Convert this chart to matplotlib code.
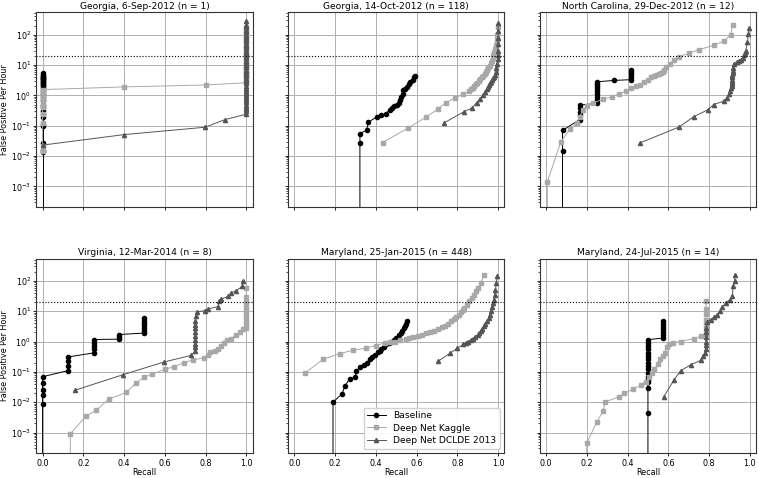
import matplotlib
matplotlib.use("Agg")
import matplotlib.pyplot as plt

titles = ["Georgia, 6-Sep-2012 (n = 1)", "Georgia, 14-Oct-2012 (n = 118)",
          "North Carolina, 29-Dec-2012 (n = 12)", "Virginia, 12-Mar-2014 (n = 8)",
          "Maryland, 25-Jan-2015 (n = 448)", "Maryland, 24-Jul-2015 (n = 14)"]
series_names = ["Baseline", "Deep Net Kaggle", "Deep Net DCLDE 2013"]
threshold_fp = 20
y_ticks = [1e-3, 1e-2, 1e-1, 1e0, 1e1, 1e2]
x_ticks = [0.0, 0.2, 0.4, 0.6, 0.8, 1.0]

# ---- Panel 1: Georgia 6-Sep-2012
p1_base_r = [0, 0, 0, 0, 0, 0, 0, 0, 0, 0, 0, 0, 0, 0, 0, 0, 0, 0, 0, 0, 0, 0, 0, 0, 0, 0, 0, 0, 0, 0]
p1_base_fp = [0, 0.014, 0.016, 0.028, 0.1, 0.11, 0.2, 0.24, 0.3, 0.4, 0.5, 0.7, 0.9, 1.1, 1.4, 1.7, 2.0, 2.2, 2.4, 2.6,
              2.8, 3.0, 3.2, 3.4, 3.6, 3.8, 4.1, 4.4, 4.8, 5.3]
p1_kag_r = [0, 0, 0, 0, 0, 0, 0, 0, 0, 0, 0, 0, 0.4, 0.8,
            1.0, 1.0, 1.0, 1.0, 1.0, 1.0, 1.0, 1.0, 1.0, 1.0, 1.0, 1.0, 1.0, 1.0, 1.0, 1.0, 1.0, 1.0, 1.0, 1.0, 1.0,
            1.0, 1.0, 1.0, 1.0, 1.0, 1.0]
p1_kag_fp = [0.015, 0.022, 0.12, 0.25, 0.4, 0.55, 0.7, 0.85, 1.0, 1.15, 1.3, 1.55, 1.9, 2.2,
             2.6, 3.0, 3.5, 4.0, 4.6, 5.3, 6.0, 7.0, 8.0, 9.0, 10, 12, 14, 16, 18, 21, 25, 30, 36, 43, 52,
             62, 75, 90, 110, 135, 165]
p1_dcl_r = [0, 0.4, 0.797, 0.896,
            1.0, 1.0, 1.0, 1.0, 1.0, 1.0, 1.0, 1.0, 1.0, 1.0, 1.0, 1.0, 1.0, 1.0, 1.0, 1.0, 1.0, 1.0, 1.0, 1.0,
            1.0, 1.0, 1.0, 1.0, 1.0, 1.0, 1.0, 1.0, 1.0, 1.0, 1.0, 1.0, 1.0, 1.0, 1.0, 1.0, 1.0, 1.0, 1.0, 1.0, 1.0]
p1_dcl_fp = [0.023, 0.051, 0.089, 0.16,
             0.24, 0.3, 0.36, 0.42, 0.5, 0.6, 0.7, 0.8, 0.95, 1.1, 1.3, 1.5, 1.8, 2.1, 2.5, 3, 3.5, 4.2, 5, 6,
             7, 8.5, 10, 12, 14, 17, 20, 24, 29, 35, 42, 50, 60, 72, 86, 100, 120, 145, 175, 210, 280]

# ---- Panel 2: Georgia 14-Oct-2012
p2_base_r = [0.322, 0.322, 0.322, 0.355, 0.363, 0.404, 0.423, 0.449, 0.469, 0.477, 0.489, 0.502, 0.515, 0.521,
             0.526, 0.531, 0.534, 0.542, 0.551, 0.564, 0.57, 0.58, 0.587, 0.592]
p2_base_fp = [0, 0.028, 0.055, 0.071, 0.13, 0.195, 0.22, 0.25, 0.34, 0.37, 0.44, 0.48, 0.54, 0.69,
              0.89, 1.15, 1.5, 1.67, 1.9, 2.45, 2.8, 3.2, 3.9, 4.3]
p2_kag_r = [0.433, 0.56, 0.645, 0.706, 0.743, 0.79, 0.83, 0.855, 0.865, 0.875, 0.882, 0.89, 0.897, 0.905, 0.912,
            0.92, 0.927, 0.934, 0.94, 0.946, 0.952, 0.958, 0.963, 0.968, 0.973, 0.977, 0.981, 0.985, 0.989, 0.993,
            0.996, 0.999]
p2_kag_fp = [0.028, 0.085, 0.19, 0.36, 0.57, 0.83, 1.1, 1.4, 1.6, 1.8, 2.0, 2.3, 2.6, 3.0, 3.4,
             3.9, 4.5, 5.2, 6.0, 7.0, 8.2, 9.6, 11.5, 14, 17, 21, 26, 33, 45, 65,
             100, 180]
p2_dcl_r = [0.735, 0.833, 0.874, 0.894, 0.91, 0.926, 0.935, 0.943, 0.95, 0.956, 0.962, 0.967, 0.972, 0.977,
            0.981, 0.985, 0.989, 0.992, 0.995, 0.997, 0.998, 0.999, 1.0, 1.0, 1.0, 1.0]
p2_dcl_fp = [0.125, 0.29, 0.39, 0.57, 0.75, 1.0, 1.3, 1.6, 1.9, 2.2, 2.5, 2.8, 3.2, 3.6,
             4.0, 4.6, 5.9, 8, 11, 16, 22, 30, 50, 80, 130, 240]

# ---- Panel 3: North Carolina 29-Dec-2012
p3_base_r = [0.081, 0.081, 0.081, 0.166, 0.166, 0.166, 0.166, 0.166, 0.248, 0.248, 0.248, 0.248, 0.248, 0.248,
             0.248, 0.248, 0.248, 0.332, 0.419, 0.419, 0.419, 0.419, 0.419]
p3_base_fp = [0, 0.0145, 0.07, 0.16, 0.22, 0.29, 0.37, 0.48, 0.54, 0.69, 0.89, 1.15, 1.4, 1.7,
              2.0, 2.4, 2.8, 3.1, 3.3, 4.0, 4.9, 5.9, 7.0]
p3_kag_r = [0.0065, 0.0065, 0.073, 0.117, 0.15, 0.166, 0.18, 0.2, 0.23, 0.28, 0.324, 0.357, 0.394, 0.419, 0.44,
            0.46, 0.48, 0.5, 0.516, 0.53, 0.54, 0.552, 0.565, 0.575, 0.58, 0.59, 0.606, 0.63, 0.65, 0.7,
            0.75, 0.826, 0.875, 0.907, 0.915]
p3_kag_fp = [0, 0.0014, 0.03, 0.076, 0.12, 0.2, 0.32, 0.44, 0.56, 0.75, 0.9, 1.1, 1.4, 1.75, 2.0,
             2.2, 2.8, 3.3, 3.9, 4.2, 4.6, 5.0, 5.5, 6.0, 6.7, 8.7, 11, 15, 19, 24,
             32, 45, 63, 100, 210]
p3_dcl_r = [0.46, 0.654, 0.725, 0.796, 0.822, 0.871, 0.887, 0.899, 0.905, 0.908, 0.91, 0.91, 0.912, 0.912, 0.914,
            0.914, 0.916, 0.916, 0.918, 0.92, 0.936, 0.948, 0.959, 0.965, 0.969, 0.975, 0.98, 0.988, 0.993, 0.998]
p3_dcl_fp = [0.027, 0.091, 0.2, 0.34, 0.5, 0.64, 0.82, 1.15, 1.4, 1.7, 2.0, 2.4, 2.8, 3.3, 3.9,
             4.6, 5.5, 6.5, 8.0, 10.5, 12.6, 13.5, 15, 17, 21, 25, 30, 57, 108, 170]

# ---- Panel 4: Virginia 12-Mar-2014
p4_base_r = [0, 0, 0, 0, 0, 0, 0.125, 0.125, 0.125, 0.125, 0.25, 0.25, 0.25, 0.25, 0.25,
             0.375, 0.375, 0.375, 0.5, 0.5, 0.5, 0.5, 0.5, 0.5, 0.5]
p4_base_fp = [0, 0.0085, 0.017, 0.026, 0.042, 0.069, 0.11, 0.16, 0.22, 0.31, 0.42, 0.55, 0.72, 0.92, 1.16,
              1.2, 1.45, 1.7, 1.9, 2.3, 2.8, 3.4, 4.1, 4.9, 5.9]
p4_kag_r = [0.136, 0.136, 0.213, 0.263, 0.325, 0.41, 0.46, 0.5, 0.537, 0.6, 0.645, 0.696, 0.737, 0.794, 0.81,
            0.823, 0.845, 0.859, 0.875, 0.888, 0.907, 0.924, 0.948, 0.969, 0.984, 0.997,
            1.0, 1.0, 1.0, 1.0, 1.0, 1.0, 1.0, 1.0, 1.0]
p4_kag_fp = [0, 0.0009, 0.0035, 0.0054, 0.0126, 0.021, 0.044, 0.067, 0.085, 0.12, 0.15, 0.2, 0.25, 0.29, 0.36,
             0.44, 0.5, 0.55, 0.7, 0.9, 1.1, 1.2, 1.7, 2.0, 2.5, 2.8,
             3.5, 4.5, 6, 8, 11, 15, 20, 30, 57]
p4_dcl_r = [0.16, 0.396, 0.594, 0.73, 0.748, 0.75, 0.75, 0.75, 0.75, 0.75, 0.75, 0.75, 0.75,
            0.752, 0.756, 0.797, 0.81, 0.859, 0.867, 0.875, 0.91, 0.924, 0.948, 0.98, 0.984]
p4_dcl_fp = [0.025, 0.081, 0.21, 0.35, 0.48, 0.65, 0.85, 1.1, 1.5, 2.0, 2.7, 3.6, 4.8,
             6.8, 9.4, 10.4, 11.7, 14, 21, 25, 30.6, 39, 47, 65, 100]

# ---- Panel 5: Maryland 25-Jan-2015
p5_base_r = [0.19, 0.19, 0.235, 0.248, 0.272, 0.3, 0.304, 0.323, 0.34, 0.355, 0.37, 0.38, 0.395, 0.41, 0.42,
             0.427, 0.44, 0.45, 0.465, 0.475, 0.49, 0.5, 0.515, 0.525, 0.53, 0.538, 0.544, 0.55, 0.555]
p5_base_fp = [0, 0.01, 0.019, 0.034, 0.059, 0.067, 0.11, 0.14, 0.17, 0.2, 0.26, 0.3, 0.37, 0.44, 0.5,
              0.57, 0.68, 0.8, 0.9, 1.0, 1.15, 1.3, 1.6, 1.9, 2.3, 2.8, 3.3, 3.9, 4.6]
p5_kag_r = [0.055, 0.142, 0.224, 0.29, 0.35, 0.4, 0.443, 0.47, 0.496, 0.52, 0.547, 0.565, 0.584, 0.605, 0.627,
            0.647, 0.667, 0.687, 0.707, 0.723, 0.739, 0.755, 0.771, 0.783, 0.795, 0.806, 0.816, 0.826, 0.835,
            0.847, 0.859, 0.87, 0.88, 0.891, 0.902, 0.915, 0.93]
p5_kag_fp = [0.095, 0.26, 0.4, 0.52, 0.6, 0.73, 0.9, 0.95, 1.0, 1.1, 1.2, 1.3, 1.4, 1.55, 1.7,
             1.85, 2.0, 2.3, 2.6, 2.9, 3.3, 3.9, 4.6, 5.4, 6.4, 7.7, 9.2, 10.8, 12.7,
             16, 21, 27, 35, 45, 57, 85, 150]
p5_dcl_r = [0.704, 0.766, 0.8, 0.83, 0.843, 0.854, 0.865, 0.875, 0.888, 0.9, 0.908, 0.915, 0.922, 0.93, 0.938,
            0.947, 0.953, 0.96, 0.965, 0.97, 0.975, 0.979, 0.983, 0.987, 0.991, 0.995]
p5_dcl_fp = [0.22, 0.42, 0.6, 0.8, 0.9, 1.0, 1.1, 1.2, 1.45, 1.7, 1.95, 2.2, 2.6, 3.2, 3.8,
             4.6, 6.0, 7.7, 10, 13.6, 18, 24, 33, 50, 85, 145]

# ---- Panel 6: Maryland 24-Jul-2015
p6_base_r = [0.5, 0.5, 0.5, 0.5, 0.5, 0.5, 0.5, 0.5, 0.5, 0.5, 0.5, 0.5, 0.5, 0.5, 0.5, 0.5, 0.5,
             0.573, 0.573, 0.573, 0.573, 0.573, 0.573, 0.573]
p6_base_fp = [0, 0.0043, 0.03, 0.045, 0.056, 0.07, 0.09, 0.12, 0.16, 0.2, 0.26, 0.33, 0.42, 0.55, 0.7, 0.9, 1.15,
              1.3, 1.6, 2.0, 2.5, 3.1, 3.9, 4.9]
p6_kag_r = [0.2, 0.2, 0.25, 0.28, 0.29, 0.356, 0.385, 0.426, 0.466, 0.49, 0.507, 0.519, 0.532, 0.548, 0.561,
            0.572, 0.583, 0.593, 0.605, 0.621, 0.66, 0.727, 0.759, 0.783, 0.785, 0.785, 0.785, 0.785, 0.785, 0.785]
p6_kag_fp = [0, 0.00045, 0.0023, 0.005, 0.0102, 0.015, 0.0195, 0.027, 0.037, 0.048, 0.068, 0.093, 0.12, 0.18, 0.26,
             0.33, 0.43, 0.66, 0.8, 0.9, 1.0, 1.25, 1.5, 1.8, 2.5, 3.5, 5.0, 8.0, 12, 22]
p6_dcl_r = [0.577, 0.629, 0.661, 0.71, 0.759, 0.772, 0.78, 0.785, 0.785, 0.785, 0.785, 0.785, 0.787, 0.79, 0.808,
            0.824, 0.84, 0.854, 0.865, 0.881, 0.902, 0.914, 0.918, 0.925, 0.927]
p6_dcl_fp = [0.015, 0.056, 0.11, 0.17, 0.24, 0.33, 0.43, 0.55, 0.75, 1.0, 1.4, 2.0, 2.8, 4.5, 5.3,
             6.3, 7.7, 10, 13.5, 18.6, 24, 31, 66, 100, 157]

panels = [
    [(p1_base_r, p1_base_fp), (p1_kag_r, p1_kag_fp), (p1_dcl_r, p1_dcl_fp)],
    [(p2_base_r, p2_base_fp), (p2_kag_r, p2_kag_fp), (p2_dcl_r, p2_dcl_fp)],
    [(p3_base_r, p3_base_fp), (p3_kag_r, p3_kag_fp), (p3_dcl_r, p3_dcl_fp)],
    [(p4_base_r, p4_base_fp), (p4_kag_r, p4_kag_fp), (p4_dcl_r, p4_dcl_fp)],
    [(p5_base_r, p5_base_fp), (p5_kag_r, p5_kag_fp), (p5_dcl_r, p5_dcl_fp)],
    [(p6_base_r, p6_base_fp), (p6_kag_r, p6_kag_fp), (p6_dcl_r, p6_dcl_fp)],
]

styles = [dict(color="black", marker="o"),
          dict(color="#a8a8a8", marker="s"),
          dict(color="#555555", marker="^")]

fig, axes = plt.subplots(2, 3, figsize=(7.59, 4.78), dpi=100, sharex=True, sharey=True)
fig.subplots_adjust(left=0.048, right=0.996, top=0.974, bottom=0.052, wspace=0.165, hspace=0.265)

for i, ax in enumerate(axes.flat):
    for (r, fp), st, name in zip(panels[i], styles, series_names):
        ax.plot(r, fp, linestyle="-", linewidth=0.7, markersize=3.0, label=name, **st)
    ax.axhline(threshold_fp, color="black", linestyle=":", linewidth=0.8)
    ax.set_yscale("log")
    ax.set_title(titles[i], fontsize=6.6, pad=2.5)
    ax.grid(True, color="#b0b0b0", linewidth=0.7)
    ax.set_axisbelow(True)
    ax.tick_params(labelsize=5.8, length=2.5, width=0.6, pad=1.5)
    ax.tick_params(which="minor", length=1.3, width=0.5)
    for s in ax.spines.values():
        s.set_linewidth(0.8)
        s.set_color("#333333")

axes[0, 0].set_xlim(-0.03, 1.03)
axes[0, 0].set_ylim(2.1e-4, 540)
axes[0, 0].set_yticks(y_ticks)
axes[0, 0].set_xticks(x_ticks)
for ax in axes[:, 0]:
    ax.set_ylabel("False Positive Per Hour", fontsize=5.8, labelpad=1.5)
for ax in axes[1, :]:
    ax.set_xlabel("Recall", fontsize=5.8, labelpad=0.5)
axes[1, 1].legend(loc="lower right", fontsize=6.6, framealpha=0.9, handlelength=2.0,
                  borderpad=0.4, labelspacing=0.35)

fig.savefig("out.png", dpi=100)
